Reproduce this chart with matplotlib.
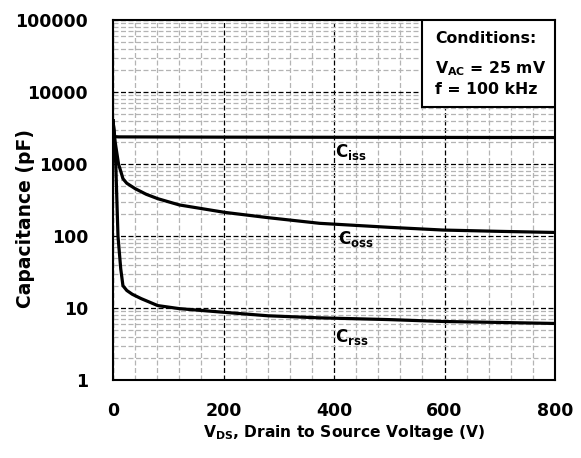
import numpy as np
import matplotlib
matplotlib.use("Agg")
import matplotlib.pyplot as plt
from matplotlib.patches import Rectangle
from matplotlib.ticker import FixedLocator, MultipleLocator, LogLocator, NullFormatter

# capacitance vs drain-source voltage (pF)
vds_iss = [0, 3, 10, 100, 200, 400, 600, 800]
c_iss = [4000, 2400, 2380, 2370, 2360, 2350, 2340, 2330]

vds_oss = [0, 4, 10, 15, 18, 25, 40, 60, 81, 120, 202, 280, 374, 500, 597, 700, 800]
c_oss = [4000, 2000, 1000, 750, 625, 540, 455, 380, 330, 270, 213, 180, 150, 132, 121, 116, 112]

vds_rss = [0, 2, 5, 9, 14, 18, 25, 35, 51, 81, 120, 202, 280, 374, 500, 597, 700, 800]
c_rss = [4000, 2000, 1000, 100, 35, 20.4, 17.5, 15.5, 13.5, 10.8, 9.8, 8.7, 7.8, 7.3, 6.9, 6.5, 6.3, 6.1]

y_ticks = [1, 10, 100, 1000, 10000, 100000]
x_ticks = [0, 200, 400, 600, 800]

fig = plt.figure(figsize=(5.81, 4.58), dpi=100)
ax = fig.add_axes([113/581, 1-380/458, 442/581, 360/458])

ax.set_yscale("log")
ax.set_xlim(0, 800)
ax.set_ylim(1, 100000)

ax.plot(vds_iss, c_iss, color="black", lw=2.3, zorder=3)
ax.plot(vds_oss, c_oss, color="black", lw=2.3, zorder=3)
ax.plot(vds_rss, c_rss, color="black", lw=2.3, zorder=3)

ax.xaxis.set_major_locator(FixedLocator(x_ticks))
ax.xaxis.set_minor_locator(MultipleLocator(40))
ax.yaxis.set_major_locator(FixedLocator(y_ticks))
ax.yaxis.set_minor_locator(LogLocator(base=10, subs=np.arange(2, 10)))
ax.yaxis.set_minor_formatter(NullFormatter())
ax.set_xticklabels([str(v) for v in x_ticks])
ax.set_yticklabels([str(v) for v in y_ticks])

ax.grid(which="minor", color="#b4b4b4", ls=(0, (4, 2)), lw=0.9, zorder=0)
ax.grid(which="major", color="black", ls=(0, (4, 2)), lw=0.9, zorder=1)
ax.tick_params(which="both", length=0)
ax.tick_params(axis="x", pad=16, labelsize=12.5)
ax.tick_params(axis="y", pad=18, labelsize=12.5)
for lab in ax.get_xticklabels() + ax.get_yticklabels():
    lab.set_fontweight("bold")

for s in ax.spines.values():
    s.set_linewidth(1.5)

ax.set_xlabel(r"V$_{\mathbf{DS}}$, Drain to Source Voltage (V)", fontsize=11.2, fontweight="bold")
ax.xaxis.set_label_coords(0.523, -0.146)
ax.set_ylabel("Capacitance (pF)", fontsize=13.5, fontweight="bold")
ax.yaxis.set_label_coords(-0.197, 0.45)
ax.yaxis.label.set_va("center")
ax.xaxis.label.set_va("center")

# curve labels
ax.text(402, 1480, r"C$_{\mathbf{iss}}$", fontsize=12, fontweight="bold", va="center", ha="left", zorder=4)
ax.text(408, 92, r"C$_{\mathbf{oss}}$", fontsize=12, fontweight="bold", va="center", ha="left", zorder=4)
ax.text(402, 3.9, r"C$_{\mathbf{rss}}$", fontsize=12, fontweight="bold", va="center", ha="left", zorder=4)

# test conditions box
ax.add_patch(Rectangle((0.699, 0.758), 0.301, 0.242, transform=ax.transAxes,
                       facecolor="white", edgecolor="black", lw=1.5, zorder=5))
cond_lines = ["Conditions:", r"V$_{\mathbf{AC}}$ = 25 mV", "f = 100 kHz"]
for txt, yy in zip(cond_lines, [0.9486, 0.866, 0.807]):
    ax.text(0.7285, yy, txt, transform=ax.transAxes, ha="left", va="center",
            fontsize=11.3, fontweight="bold", zorder=6)

fig.savefig("out.png", dpi=100)
